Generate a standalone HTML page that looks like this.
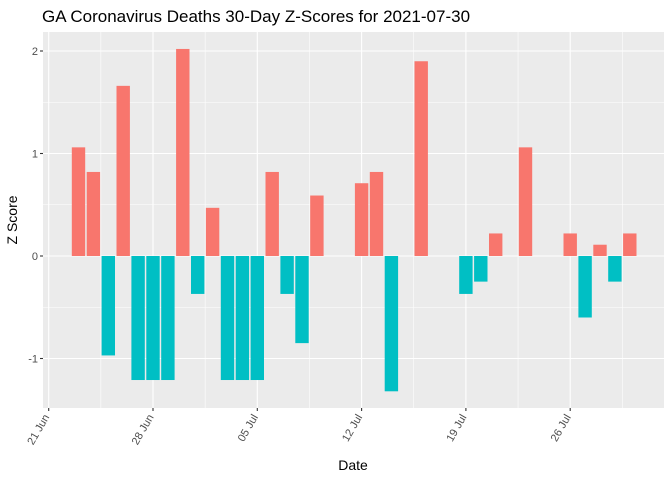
<!DOCTYPE html>
<html><head><meta charset="utf-8"><style>
body{margin:0;background:#fff;}
svg text{font-family:"Liberation Sans",Arial,sans-serif;}
</style></head><body>
<svg id="chart" width="672" height="480" xmlns="http://www.w3.org/2000/svg">
<rect width="672" height="480" fill="#fff"/>
<text x="42" y="22" font-size="17" fill="#000">GA Coronavirus Deaths 30-Day Z-Scores for 2021-07-30</text>
<rect x="43" y="32" width="621" height="376" fill="#ebebeb"/>
<g id="grid"></g>
<g id="bars"></g>
<g id="axes"></g>
<text x="353" y="470" font-size="14" text-anchor="middle" fill="#000">Date</text>
<text transform="translate(17,220) rotate(-90)" font-size="14" text-anchor="middle" fill="#000">Z Score</text>
</svg>
<script>
// day index from 21 Jun 2021
const days = [2,3,4,5,6,7,8,9,10,11,12,13,14,15,16,17,18,21,22,23,25,28,29,30,32,35,36,37,38,39];
const values = [1.06,0.82,-0.97,1.66,-1.21,-1.21,-1.21,2.02,-0.37,0.47,-1.21,-1.21,-1.21,0.82,-0.37,-0.85,0.59,0.71,0.82,-1.32,1.90,-0.37,-0.25,0.22,1.06,0.22,-0.60,0.11,-0.25,0.22];
const yTicks = [-1,0,1,2];
const yTickLabels = ["-1","0","1","2"];
const xTicks = [0,7,14,21,28,35];
const xTickLabels = ["21 Jun","28 Jun","05 Jul","12 Jul","19 Jul","26 Jul"];

const NS="http://www.w3.org/2000/svg";
const x = d => 48.7 + 14.9*d;
const y = v => 256 - 102.5*v;
function mk(tag, attrs, parent){const e=document.createElementNS(NS,tag);for(const k in attrs)e.setAttribute(k,attrs[k]);parent.appendChild(e);return e;}
const grid=document.getElementById('grid'), bars=document.getElementById('bars'), axes=document.getElementById('axes');
const L=43,R=664,T=32,B=408;
for(let i=0;i<yTicks.length-1;i++){const v=(yTicks[i]+yTicks[i+1])/2;
  const g=mk('line',{x1:L,x2:R,y1:y(v),y2:y(v),stroke:'#fff','stroke-width':0.55},grid);
  
  }
for(let i=0;i<xTicks.length;i++){const d=xTicks[i]+3.5;if(x(d)<R){
  const g=mk('line',{x1:x(d),x2:x(d),y1:T,y2:B,stroke:'#fff','stroke-width':0.55},grid);
  
  }}
yTicks.forEach((v,i)=>{
  const g=mk('line',{x1:L,x2:R,y1:y(v),y2:y(v),stroke:'#fff','stroke-width':1.1},grid);
  
  
  mk('line',{x1:L-3,x2:L,y1:y(v),y2:y(v),stroke:'#333','stroke-width':1.1},axes);
  const t=mk('text',{x:L-5,y:y(v)+4,'font-size':11,'text-anchor':'end',fill:'#4d4d4d'},axes);
  t.textContent=yTickLabels[i];
  
  
});
xTicks.forEach((d,i)=>{
  const g=mk('line',{x1:x(d),x2:x(d),y1:T,y2:B,stroke:'#fff','stroke-width':1.1},grid);
  
  
  mk('line',{x1:x(d),x2:x(d),y1:B,y2:B+3,stroke:'#333','stroke-width':1.1},axes);
  const t=mk('text',{transform:`translate(${x(d)+1},${B+9}) rotate(-60)`,'font-size':11,'text-anchor':'end',fill:'#4d4d4d'},axes);
  t.textContent=xTickLabels[i];
  
  
});
days.forEach((d,i)=>{
  const v=values[i];
  const r=mk('rect',{x:x(d)-6.7,width:13.4,y:Math.min(y(v),y(0)),height:Math.abs(y(v)-y(0)),fill:v>=0?'#f8766d':'#00bfc4'},bars);
  
  
});
</script>
</body></html>
